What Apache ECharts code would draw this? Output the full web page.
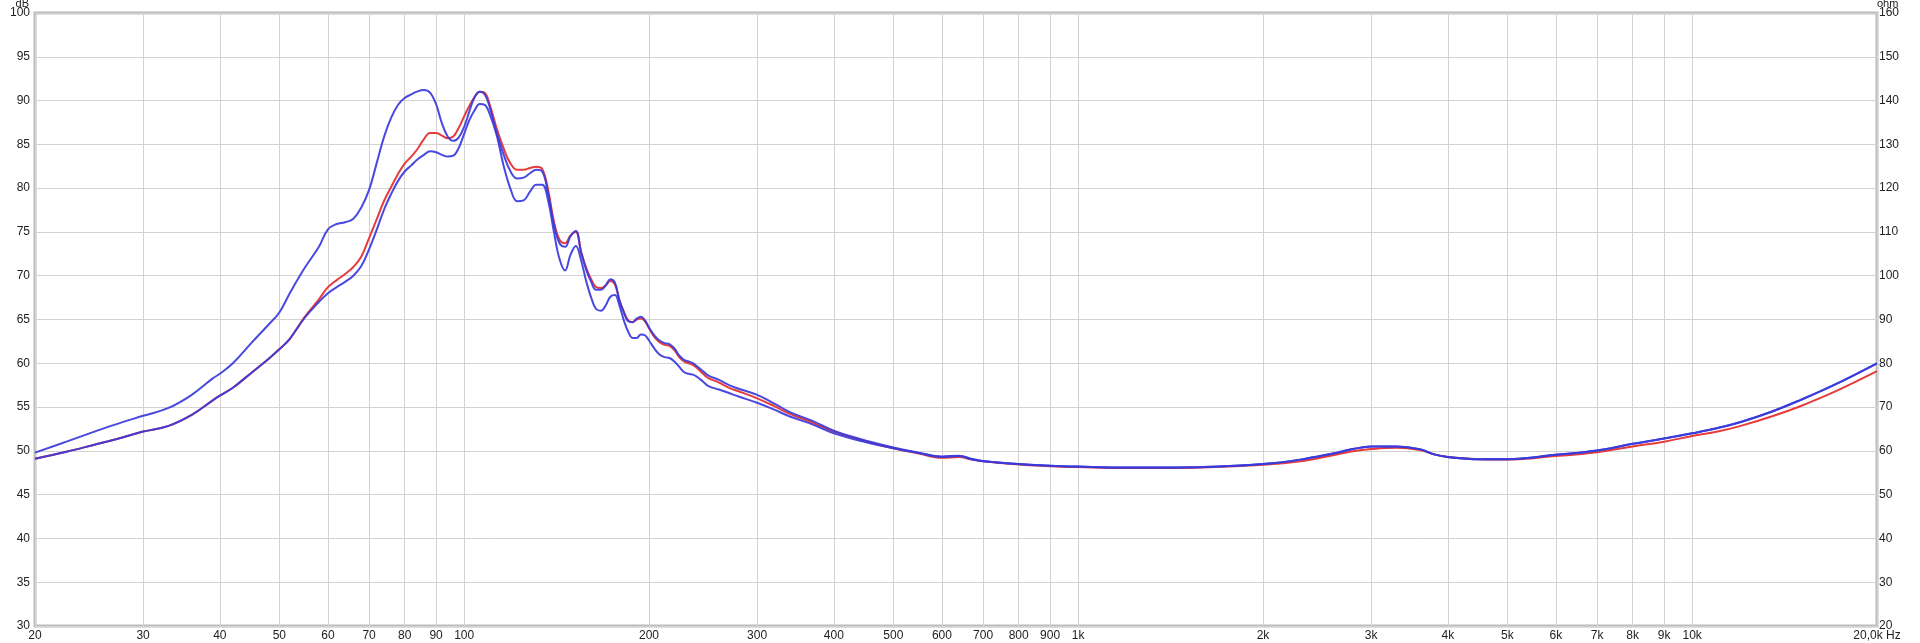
<!DOCTYPE html>
<html>
<head>
<meta charset="utf-8">
<script src="https://cdn.jsdelivr.net/npm/echarts@6/dist/echarts.min.js"></script>
<style>
html,body{margin:0;padding:0;background:#fff;}
#chart{width:1920px;height:643px;}
</style>
</head>
<body>
<div id="chart"></div>
<script>
// Frequencies (Hz)
var freqs = [20,22.5,25,27,30,33,36,39,40,42,45,48,50,52,55,58,60,62,64,66,68,70,72,74,76,78,80,82,84,86,88,90,92,94,96,98,100,102,104,106,108,
  110,113,116,119,122,125,128,131,134,137,140,143,146,149,152,155,158,161,164,167,170,173,176,179,182,185,188,191,194,197,200,204,208,212,216,220,224,228,232,236,240,245,250,260,270,280,
  300,320,340,370,400,450,500,550,600,640,670,700,800,900,1000,1200,1400,1600,2000,2300,2600,2800,3000,3300,3600,3800,4000,4500,5000,6000,7000,8000,9000,10000,11000,12000,13500,15000,17000,20000];

// Red curve (dB)
var redDb = [49.1,49.9,50.7,51.3,52.2,52.85,54.1,55.8,56.3,57.2,58.9,60.5,61.6,62.8,65.3,67.3,68.7,69.5,70.2,71.0,72.2,74.3,76.4,78.5,80.1,81.6,82.8,83.6,84.5,85.6,86.3,86.3,86.0,85.7,85.9,86.9,88.2,89.4,90.4,91.0,90.9,
  89.6,86.8,84.5,82.8,82.1,82.1,82.3,82.45,82.2,79.8,76.2,74.1,73.7,74.6,75.0,72.8,70.9,69.6,68.7,68.6,68.9,69.4,69.0,67.2,65.9,64.9,64.7,65.0,65.1,64.8,64.0,63.0,62.4,62.1,62.0,61.5,60.7,60.2,60.0,59.8,59.4,58.8,58.3,57.8,57.2,56.8,
  56.0,55.1,54.2,53.2,52.2,51.1,50.3,49.7,49.2,49.3,49.0,48.8,48.45,48.25,48.15,48.05,48.05,48.1,48.4,48.8,49.5,49.95,50.2,50.35,50.1,49.6,49.3,49.05,49.0,49.4,49.85,50.5,51.05,51.7,52.2,52.85,53.95,55.1,56.7,59.1];

// Upper blue curve (dB)
var blueADb = [49.8,51.05,52.2,53.0,54.0,54.9,56.4,58.3,58.8,60.0,62.3,64.4,65.8,68.0,70.9,73.3,75.3,75.9,76.1,76.5,77.8,79.8,82.8,85.8,88.0,89.5,90.3,90.7,91.05,91.2,90.9,89.6,87.4,85.9,85.4,85.8,87.0,88.8,90.4,91.0,90.7,
  89.3,86.3,83.8,81.9,81.1,81.2,81.7,82.1,81.9,79.4,75.9,73.7,73.3,74.5,75.1,72.7,70.7,69.3,68.4,68.4,68.9,69.6,69.2,67.2,65.8,64.8,64.7,65.1,65.3,64.9,64.1,63.2,62.6,62.3,62.2,61.7,60.9,60.4,60.2,60.0,59.6,59.1,58.6,58.1,57.5,57.1,
  56.4,55.4,54.4,53.4,52.3,51.2,50.4,49.8,49.35,49.45,49.1,48.85,48.5,48.3,48.2,48.1,48.1,48.15,48.5,49.0,49.7,50.2,50.5,50.5,50.2,49.6,49.3,49.05,49.05,49.55,50.05,50.8,51.4,52.0,52.6,53.3,54.5,55.8,57.5,60.0];

// Lower blue curve (dB)
var blueBDb = [49.1,49.9,50.7,51.3,52.2,52.85,54.1,55.8,56.3,57.2,58.9,60.5,61.6,62.8,65.2,67.0,68.0,68.7,69.3,70.0,71.1,73.0,75.2,77.5,79.3,80.8,81.9,82.6,83.3,83.8,84.2,84.1,83.8,83.6,83.7,84.6,86.2,87.8,88.9,89.6,89.5,
  88.5,86.0,82.5,79.9,78.5,78.6,79.6,80.4,80.4,78.6,75.0,71.9,70.6,72.4,73.4,71.8,69.4,67.5,66.2,66.0,66.6,67.6,67.8,66.6,64.9,63.6,62.9,62.9,63.3,63.2,62.6,61.7,61.0,60.7,60.6,60.2,59.6,59.0,58.8,58.7,58.4,57.9,57.4,57.0,56.6,56.2,
  55.5,54.7,53.9,53.0,52.0,51.0,50.3,49.75,49.3,49.4,49.05,48.8,48.5,48.3,48.2,48.1,48.1,48.15,48.5,49.0,49.7,50.2,50.5,50.5,50.2,49.6,49.3,49.05,49.05,49.55,50.05,50.8,51.4,52.0,52.6,53.3,54.5,55.8,57.5,60.0];

// Tick positions / labels on the frequency axis
var freqTicks = [20,30,40,50,60,70,80,90,100,200,300,400,500,600,700,800,900,1000,2000,3000,4000,5000,6000,7000,8000,9000,10000,20000];
var dbTicks = {min:30, max:100, interval:5};
var ohmTicks = {min:20, max:160, interval:10};

function pairs(vals){ return freqs.map(function(f,i){ return [f, vals[i]]; }); }
function freqLabel(v){
  v = Math.round(v);
  if (v >= 20000) return '20,0k Hz';
  if (v >= 1000) return (v/1000) + 'k';
  return String(v);
}

var font = "'Liberation Sans', Arial, sans-serif";
var chart = echarts.init(document.getElementById('chart'), null, {renderer:'canvas'});
chart.setOption({
  animation: false,
  backgroundColor: '#ffffff',
  grid: {left:35, right:43, top:13, bottom:17, show:true, borderColor:'#bcbcbc', borderWidth:3, backgroundColor:'#ffffff',
         containLabel:false, outerBoundsMode:'none'},
  xAxis: {
    type: 'log', logBase: 10, min: 20, max: 20000,
    axisLine: {show:false},
    axisTick: {show:false, customValues: freqTicks},
    axisLabel: {customValues: freqTicks, formatter: freqLabel, color:'#222', fontSize:12, fontFamily:font, margin:4},
    splitLine: {show:true, lineStyle:{color:'#d2d2d2', width:1}},
    minorSplitLine: {show:false}
  },
  yAxis: [{
    type: 'value', min: dbTicks.min, max: dbTicks.max, interval: dbTicks.interval,
    name: 'dB', nameLocation: 'end', nameGap: 4, nameMoveOverlap: false,
    nameTextStyle: {color:'#222', fontSize:11, lineHeight:11, fontFamily:font, align:'right', verticalAlign:'bottom', padding:[0,6,0,0]},
    axisLine: {show:false}, axisTick: {show:false},
    axisLabel: {color:'#222', fontSize:12, fontFamily:font, margin:5},
    splitLine: {show:true, lineStyle:{color:'#d2d2d2', width:1}}
  },{
    type: 'value', position: 'right', min: ohmTicks.min, max: ohmTicks.max, interval: ohmTicks.interval,
    name: 'ohm', nameLocation: 'end', nameGap: 4, nameMoveOverlap: false,
    nameTextStyle: {color:'#222', fontSize:11, lineHeight:11, fontFamily:font, align:'left', verticalAlign:'bottom', padding:[0,0,0,0]},
    axisLine: {show:false}, axisTick: {show:false},
    axisLabel: {color:'#222', fontSize:12, fontFamily:font, margin:2},
    splitLine: {show:false}
  }],
  series: [
    {name:'red', type:'line', data: pairs(redDb), showSymbol:false, smooth:0.4, yAxisIndex:0,
     lineStyle:{color:'#e63c3c', width:2}, z:2},
    {name:'blueA', type:'line', data: pairs(blueADb), showSymbol:false, smooth:0.4, yAxisIndex:0,
     lineStyle:{color:'#3a3adc', width:2, opacity:0.92}, z:3},
    {name:'blueB', type:'line', data: pairs(blueBDb), showSymbol:false, smooth:0.4, yAxisIndex:0,
     lineStyle:{color:'#3a3adc', width:2, opacity:0.92}, z:3}
  ]
});
</script>
</body>
</html>
